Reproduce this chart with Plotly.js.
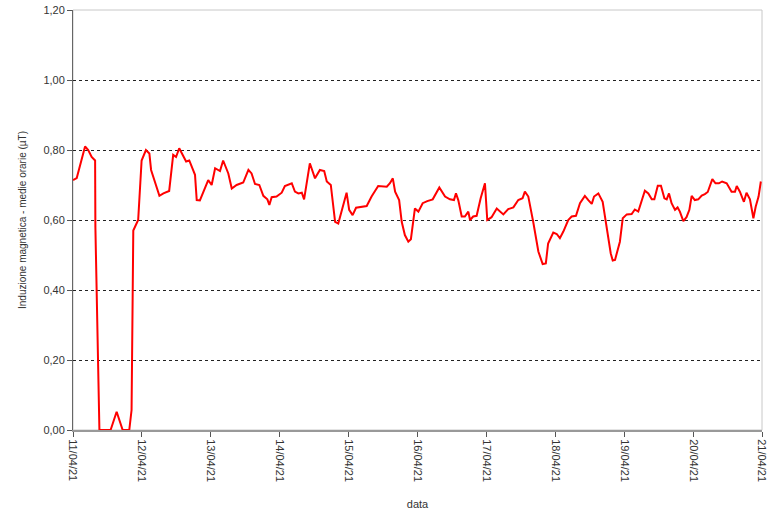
<!DOCTYPE html>
<html>
<head>
<meta charset="utf-8">
<script src="https://cdn.plot.ly/plotly-3.0.1.min.js"></script>
<style>
  html, body { margin: 0; padding: 0; background: #fff; }
  #myDiv { width: 771px; height: 510px; }
</style>
</head>
<body>
<div id="myDiv"></div>
<script>
  // hours after 11/04/21 00:00 and the hourly mean (uT)
  let hours = [
    0, 1.3, 4.2, 5.3, 6.5, 7.7, 7.8, 8.3, 8.5, 8.8, 9.2, 13.1, 15.2, 17.3, 19.6, 20.4, 20.8, 21.0, 22.7, 23.9,
    25.4, 26.6, 27.2, 28.9, 30.1, 31.5, 33.5, 34.9, 35.9, 37.0, 39.4, 40.5, 42.5, 43.1, 44.2, 47.1, 48.3, 49.5, 51.2,
    52.3, 54.1, 55.3, 57.0, 59.3, 61.1, 62.2, 63.4, 64.9, 66.3, 67.7, 68.4, 69.2, 70.9, 72.7, 73.8, 76.2, 77.3, 78.5,
    79.7, 80.5, 82.5, 84.3, 86.0, 87.5, 88.4, 89.8, 91.3, 92.4, 93.6, 95.3, 96.2, 97.4, 98.6,
    102.3, 104.0, 106.3, 109.3, 110.4, 111.4, 112.2, 113.6, 114.5, 115.6, 116.8, 117.7, 119.1, 120.3, 121.8, 123.4,
    125.3, 127.6, 129.6, 131.3, 132.7, 133.4, 134.2, 135.4, 136.5, 137.7, 138.3, 139.4, 140.6, 142.0, 143.5, 144.3,
    145.8, 147.6, 149.9, 151.6, 153.4, 155.1, 156.6, 157.4, 158.6, 160.3, 162.1, 163.6, 164.7, 165.5, 167.3, 168.5,
    169.6, 170.8, 172.5, 173.7, 175.2, 176.6, 178.3, 179.5, 180.7, 181.5, 183.0, 184.5, 185.9, 187.3, 188.0, 188.8,
    190.5, 191.5, 192.9, 194.6, 195.7, 196.9, 199.2, 200.4, 201.6, 202.5, 203.7, 204.8, 206.0, 206.8, 207.6, 208.5,
    209.7, 210.6, 211.4, 212.6, 213.7, 214.7, 215.5, 216.6, 217.8, 219.0, 220.1, 221.1, 222.7, 223.8, 225.0, 226.1,
    227.7, 229.4, 230.6, 231.2, 232.3, 233.7, 234.6, 235.8, 237.0, 237.8, 238.8, 239.6
  ];
  let induzione = [
    0.714, 0.72, 0.81, 0.80, 0.78, 0.77, 0.58, 0.38, 0.26, 0.13, 0.0, 0.0, 0.052, 0.0, 0.0, 0.057, 0.31, 0.57, 0.60, 0.77,
    0.80, 0.79, 0.743, 0.70, 0.669, 0.676, 0.683, 0.786, 0.78, 0.805, 0.767, 0.77, 0.729, 0.657, 0.656, 0.714, 0.70, 0.748, 0.74,
    0.77, 0.733, 0.69, 0.70, 0.707, 0.743, 0.733, 0.703, 0.70, 0.669, 0.659, 0.643, 0.665, 0.667, 0.678, 0.697, 0.705, 0.681, 0.676,
    0.678, 0.659, 0.762, 0.719, 0.743, 0.74, 0.71, 0.70, 0.595, 0.59, 0.629, 0.678, 0.629, 0.614, 0.635,
    0.64, 0.667, 0.697, 0.695, 0.705, 0.719, 0.681, 0.657, 0.595, 0.557, 0.538, 0.545, 0.633, 0.624, 0.648, 0.654,
    0.659, 0.693, 0.667, 0.659, 0.657, 0.676, 0.657, 0.61, 0.61, 0.624, 0.60, 0.61, 0.612, 0.662, 0.705, 0.60,
    0.608, 0.633, 0.616, 0.631, 0.636, 0.657, 0.662, 0.681, 0.667, 0.595, 0.51, 0.474, 0.476, 0.533, 0.564, 0.56,
    0.548, 0.567, 0.60, 0.61, 0.612, 0.648, 0.669, 0.657, 0.646, 0.667, 0.676, 0.652, 0.581, 0.505, 0.484, 0.486,
    0.538, 0.605, 0.616, 0.617, 0.63, 0.624, 0.684, 0.676, 0.659, 0.659, 0.698, 0.698, 0.662, 0.659, 0.676, 0.648,
    0.629, 0.636, 0.624, 0.597, 0.608, 0.629, 0.669, 0.657, 0.659, 0.67, 0.674, 0.68, 0.717, 0.705, 0.705, 0.71,
    0.705, 0.681, 0.681, 0.697, 0.681, 0.652, 0.678, 0.659, 0.605, 0.638, 0.667, 0.71
  ];
  let yTicks = [0, 0.2, 0.4, 0.6, 0.8, 1.0, 1.2];

  function pad(n) { return (n < 10 ? '0' : '') + n; }

  // turn hours after the start into a plotly date string
  function HoursToDate(h) {
    let ms = Date.UTC(2021, 3, 11) + Math.round(h * 60) * 60000;
    let d = new Date(ms);
    return d.getUTCFullYear() + '-' + pad(d.getUTCMonth() + 1) + '-' + pad(d.getUTCDate()) +
      ' ' + pad(d.getUTCHours()) + ':' + pad(d.getUTCMinutes());
  }

  let xDates = [];
  for (let i = 0; i < hours.length; i++) { xDates.push(HoursToDate(hours[i])); }

  var trace = {
    x: xDates,
    y: induzione,
    mode: 'lines',
    type: 'scatter',
    line: { color: '#ff0000', width: 2 },
    hoverinfo: 'x+y'
  };

  var layout = {
    width: 771,
    height: 510,
    margin: { l: 73, r: 9, t: 10, b: 80 },
    paper_bgcolor: '#ffffff',
    plot_bgcolor: '#ffffff',
    showlegend: false,
    separators: ',.',
    font: { family: 'Liberation Sans, Arial, sans-serif', size: 11, color: '#333333' },
    xaxis: {
      type: 'date',
      range: ['2021-04-11 00:00', '2021-04-21 00:00'],
      dtick: 86400000,
      tick0: '2021-04-11',
      tickformat: '%d/%m/%y',
      tickangle: 90,
      ticks: 'outside',
      ticklen: 5,
      tickcolor: '#555555',
      showgrid: false,
      zeroline: false,
      showline: true,
      linecolor: '#999999',
      linewidth: 2,
      tickfont: { size: 11, color: '#333333' },
      title: { text: 'data', font: { size: 11, color: '#333333' }, standoff: 22 }
    },
    yaxis: {
      range: [0, 1.2],
      tickvals: yTicks,
      tickformat: '.2f',
      ticks: 'outside',
      ticklen: 5,
      tickcolor: '#555555',
      showgrid: true,
      gridcolor: '#222222',
      gridwidth: 1,
      griddash: '3px,3px',
      zeroline: false,
      showline: true,
      linecolor: '#666666',
      linewidth: 1,
      tickfont: { size: 11, color: '#333333' },
      title: { text: 'Induzione magnetica - medie orarie (µT)', font: { size: 10, color: '#333333' }, standoff: 14 }
    },
    shapes: [
      {
        type: 'rect', xref: 'paper', yref: 'paper', x0: 0, x1: 1, y0: 0, y1: 1,
        line: { color: '#c8c8c8', width: 1 }, layer: 'below'
      }
    ]
  };

  Plotly.newPlot('myDiv', [trace], layout, { displayModeBar: false, staticPlot: true });
</script>
</body>
</html>
